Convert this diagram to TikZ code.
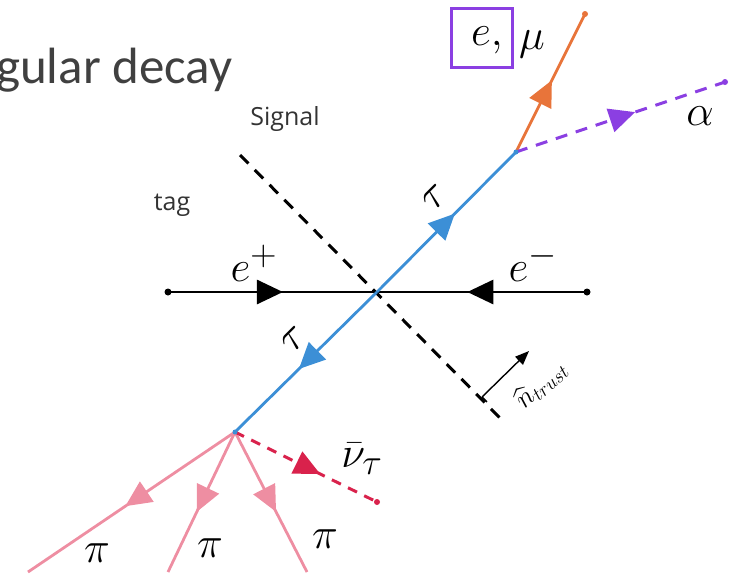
\documentclass[tikz,border=0pt]{standalone}
\usepackage{fontspec}
\usepackage{amsmath}
\newfontfamily\titlefont{Carlito}
\newfontfamily\handfont{Open Sans}
\usetikzlibrary{arrows.meta,calc,decorations.markings}
\definecolor{tauc}{HTML}{3C8FD6}
\definecolor{lepc}{HTML}{E8743A}
\definecolor{alpc}{HTML}{8B3FE2}
\definecolor{pic}{HTML}{EE8EA2}
\definecolor{nuc}{HTML}{D9224C}
\definecolor{ttl}{HTML}{404040}
\newcommand{\mlab}[1]{\scalebox{1.75}{$#1$}}
\tikzset{
  midarr/.style={postaction={decorate},decoration={markings,mark=at position #1 with {\arrow{Triangle[length=26pt,width=24pt]}}}},
  leg/.style={line width=2.8pt},
  dsh/.style={line width=3pt,dash pattern=on 12pt off 9pt},
  lab/.style={font=\Huge,inner sep=0pt},
  hand/.style={font=\handfont\fontsize{25}{28}\selectfont,inner sep=0pt,text=black!80},
  dot/.style={circle,fill,inner sep=0pt,minimum size=6pt},
}
\begin{document}
\begin{tikzpicture}[x=1pt,y=-1pt]
\useasboundingbox (0,0) rectangle (733,574);
% vertices
\coordinate (c) at (377,292);
\coordinate (vu) at (516,152);
\coordinate (vd) at (235,432);
\coordinate (ep) at (168,292);
\coordinate (em) at (587,292);
\coordinate (lep) at (585,14);
\coordinate (alp) at (725,82);
\coordinate (pi1) at (28,572);
\coordinate (pi2) at (168,572);
\coordinate (pi3) at (307,572);
\coordinate (nu) at (377,502);
\coordinate (sgA) at (240,155);
\coordinate (sgB) at (502,420);
\coordinate (nA) at (482,397);
\coordinate (nB) at (529,351);

% title
\node[anchor=base west,inner sep=0pt,font=\titlefont\fontsize{51}{56}\selectfont,text=ttl] (ttl) at (-4,83) {gular decay};

% signal / tag plane
\draw[dsh] (sgA) -- (sgB);
\node[hand] (sig) at (285,119) {Signal};
\node[hand] (tag) at (172,205) {tag};
\draw[line width=1.6pt] ($(nA)!7pt!-90:(nB)$) -- (nA);
\draw[line width=1.4pt,-{Triangle[length=14pt,width=11pt]}] (nA) -- (nB);
\node[inner sep=0pt,rotate=42,font=\LARGE] (ntr) at (541,384) {\scalebox{1.6}{$\widehat{n}_{trust}$}};

% beams
\draw[leg,midarr=0.55] (ep) -- (c);
\draw[leg,midarr=0.57] (em) -- (c);
\node[dot,minimum size=7pt] at (ep) {};
\node[dot,minimum size=7pt] at (em) {};
\node[lab] (lEp) at (254,263) {\mlab{e^{+}}};
\node[lab] (lEm) at (533,263) {\mlab{e^{-}}};

% tau pair
\draw[leg,tauc,midarr=0.56] (c) -- (vu);
\draw[leg,tauc,midarr=0.55] (c) -- (vd);
\node[lab,rotate=45] (lTu) at (435,198) {\mlab{\tau}};
\node[lab,rotate=45] (lTd) at (294,340) {\mlab{\tau}};

% signal side
\draw[leg,lepc,midarr=0.52] (vu) -- (lep);
\node[dot,lepc] at (lep) {};
\draw[dsh,alpc,midarr=0.57] (vu) -- (alp);
\node[dot,alpc] at (alp) {};
\node[dot,tauc,minimum size=5pt] at (vu) {};
\node[draw=alpc,line width=2.6pt,minimum width=61pt,minimum height=59pt,inner sep=0pt] (box) at (482,38) {};
\node[lab] (lE) at (487,40) {\mlab{e,}};
\node[lab] (lMu) at (532,44) {\mlab{\mu}};
\node[lab] (lAl) at (700,116) {\mlab{\alpha}};

% tag side
\draw[leg,pic,midarr=0.53] (vd) -- (pi1);
\draw[leg,pic,midarr=0.57] (vd) -- (pi2);
\draw[leg,pic,midarr=0.57] (vd) -- (pi3);
\draw[dsh,nuc,dash pattern=on 10pt off 8pt,midarr=0.6] (vd) -- (nu);
\node[dot,nuc] at (nu) {};
\node[dot,tauc,minimum size=5pt] at (vd) {};
\node[lab] (lP1) at (97,553) {\mlab{\pi}};
\node[lab] (lP2) at (210,548) {\mlab{\pi}};
\node[lab] (lP3) at (325,539) {\mlab{\pi}};
\node[lab] (lNu) at (362,459) {\mlab{\bar{\nu}_{\tau}}};
\end{tikzpicture}
\end{document}
